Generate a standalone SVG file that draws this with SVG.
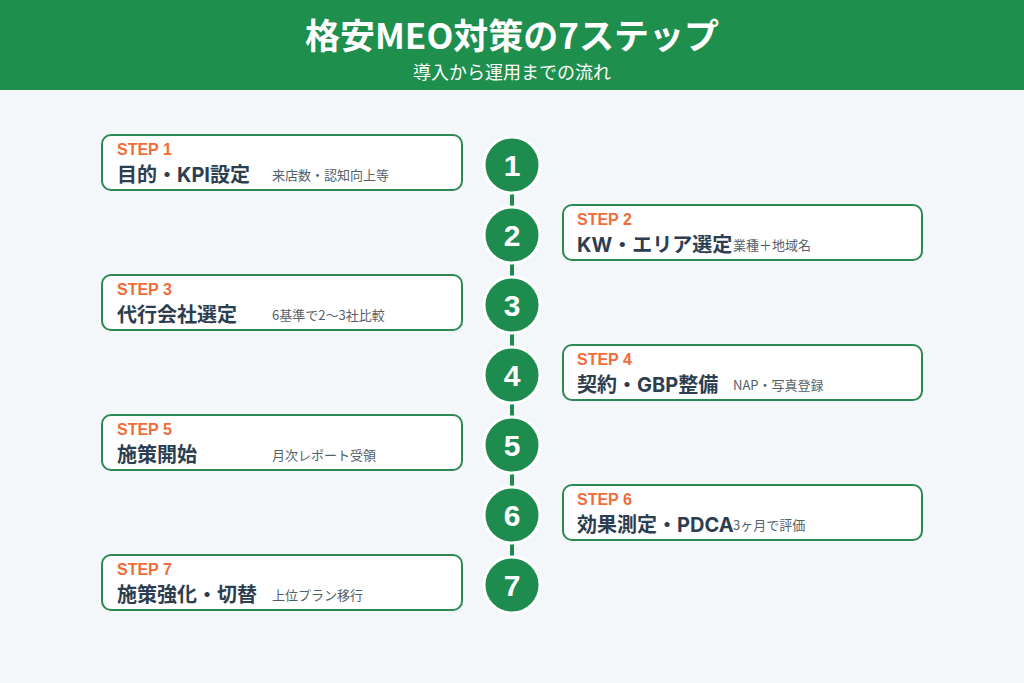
<svg xmlns="http://www.w3.org/2000/svg" width="1024" height="683" viewBox="0 0 1024 683">
<style>
text{font-family:"Noto Sans CJK JP","Noto Sans",sans-serif}
.box{fill:#ffffff;stroke:#2a8a52;stroke-width:2}
.step{fill:#f26b3a;font-size:16px;font-weight:700;font-family:"Liberation Sans","Noto Sans CJK JP",sans-serif}
.ttl{fill:#2c3e50;font-size:20px;font-weight:700;font-family:"Inter","Noto Sans CJK JP",sans-serif}
.sub{fill:#555f6a;font-size:13px}
.circ{fill:#1e8c4e;stroke:#ffffff;stroke-width:3}
.num{fill:#ffffff;font-size:30px;font-weight:700;text-anchor:middle;font-family:"Liberation Sans",sans-serif}
</style>
<rect x="0" y="0" width="1024" height="683" fill="#f4f7fa"/>
<g id="header">
<rect x="0" y="0" width="1024" height="90" fill="#1f8f4e"/>
<text x="512" y="49" fill="#ffffff" font-size="35" font-weight="700" text-anchor="middle">格安MEO対策の7ステップ</text>
<text x="512" y="79" fill="#ffffff" font-size="18" text-anchor="middle">導入から運用までの流れ</text>
</g>
<g id="connectors">
<line x1="512" y1="165" x2="512" y2="585" stroke="#1e8c4e" stroke-width="4"/>
</g>
<g id="step1">
<rect class="box" x="102" y="135" width="360" height="55" rx="9"/>
<text class="step" x="117" y="155">STEP 1</text>
<text class="sub" x="272" y="180">来店数・認知向上等</text>
<text class="ttl" x="117" y="182">目的・KPI設定</text>
<circle class="circ" cx="512" cy="165" r="28"/>
<text class="num" x="512" y="176">1</text>
</g>
<g id="step2">
<rect class="box" x="563" y="205" width="359" height="55" rx="9"/>
<text class="step" x="577" y="225">STEP 2</text>
<text class="sub" x="733" y="250">業種＋地域名</text>
<text class="ttl" x="577" y="252">KW・エリア選定</text>
<circle class="circ" cx="512" cy="235" r="28"/>
<text class="num" x="512" y="246">2</text>
</g>
<g id="step3">
<rect class="box" x="102" y="275" width="360" height="55" rx="9"/>
<text class="step" x="117" y="295">STEP 3</text>
<text class="sub" x="272" y="320">6基準で2〜3社比較</text>
<text class="ttl" x="117" y="322">代行会社選定</text>
<circle class="circ" cx="512" cy="305" r="28"/>
<text class="num" x="512" y="316">3</text>
</g>
<g id="step4">
<rect class="box" x="563" y="345" width="359" height="55" rx="9"/>
<text class="step" x="577" y="365">STEP 4</text>
<text class="sub" x="733" y="390">NAP・写真登録</text>
<text class="ttl" x="577" y="392">契約・GBP整備</text>
<circle class="circ" cx="512" cy="375" r="28"/>
<text class="num" x="512" y="386">4</text>
</g>
<g id="step5">
<rect class="box" x="102" y="415" width="360" height="55" rx="9"/>
<text class="step" x="117" y="435">STEP 5</text>
<text class="sub" x="272" y="460">月次レポート受領</text>
<text class="ttl" x="117" y="462">施策開始</text>
<circle class="circ" cx="512" cy="445" r="28"/>
<text class="num" x="512" y="456">5</text>
</g>
<g id="step6">
<rect class="box" x="563" y="485" width="359" height="55" rx="9"/>
<text class="step" x="577" y="505">STEP 6</text>
<text class="sub" x="733" y="530">3ヶ月で評価</text>
<text class="ttl" x="577" y="532">効果測定・PDCA</text>
<circle class="circ" cx="512" cy="515" r="28"/>
<text class="num" x="512" y="526">6</text>
</g>
<g id="step7">
<rect class="box" x="102" y="555" width="360" height="55" rx="9"/>
<text class="step" x="117" y="575">STEP 7</text>
<text class="sub" x="272" y="600">上位プラン移行</text>
<text class="ttl" x="117" y="602">施策強化・切替</text>
<circle class="circ" cx="512" cy="585" r="28"/>
<text class="num" x="512" y="596">7</text>
</g>
</svg>
